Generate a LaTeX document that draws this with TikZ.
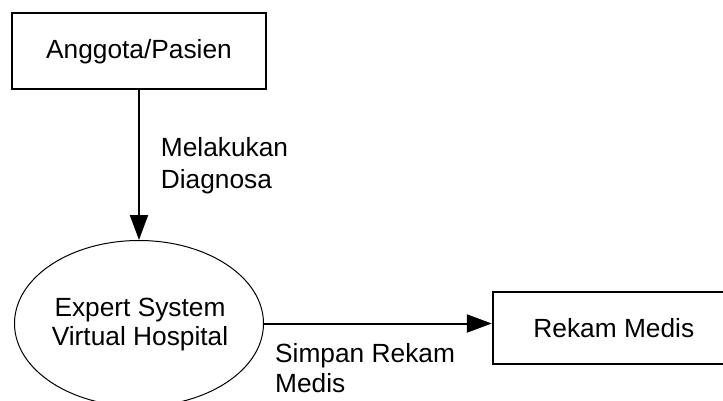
\documentclass[tikz,border=0pt]{standalone}
\usepackage{fontspec}
\setmainfont{Liberation Sans}
\usetikzlibrary{arrows.meta,shapes.geometric}
\begin{document}
\begin{tikzpicture}[x=1pt,y=-1pt,
 txt/.style={font=\fontsize{26.3}{29.5}\selectfont},
 boxnode/.style={draw,line width=1.8pt,inner sep=0pt,txt,anchor=center},
 ellnode/.style={draw,ellipse,line width=1pt,inner sep=0pt},
 lbl/.style={txt,inner sep=0pt,anchor=north west,align=left},
 flow/.style={line width=2pt,-{Triangle[length=25pt,width=18pt]}}]
\useasboundingbox (0,0) rectangle (723,400);
\node[boxnode,minimum width=253.4pt,minimum height=76pt] (ap) at (139,51.3) {Anggota/Pasien};
\node[ellnode,minimum width=249pt,minimum height=166pt] (es) at (139,323.5) {};
\node[txt,align=center,inner sep=0pt] (estext) at (140,324.4) {Expert System\\Virtual Hospital};
\node[boxnode,minimum width=242.3pt,minimum height=72pt] (rm) at (613.85,328.3) {Rekam Medis};
\draw[flow] (ap) -- (es);
\draw[flow] (es.east) -- (es.east -| rm.west);
\node[lbl,font=\fontsize{26.3}{32}\selectfont] (l1) at (160.7,137.3) {Melakukan\\Diagnosa};
\node[lbl] (l2) at (275,343.3) {Simpan Rekam\\Medis};
\end{tikzpicture}
\end{document}
